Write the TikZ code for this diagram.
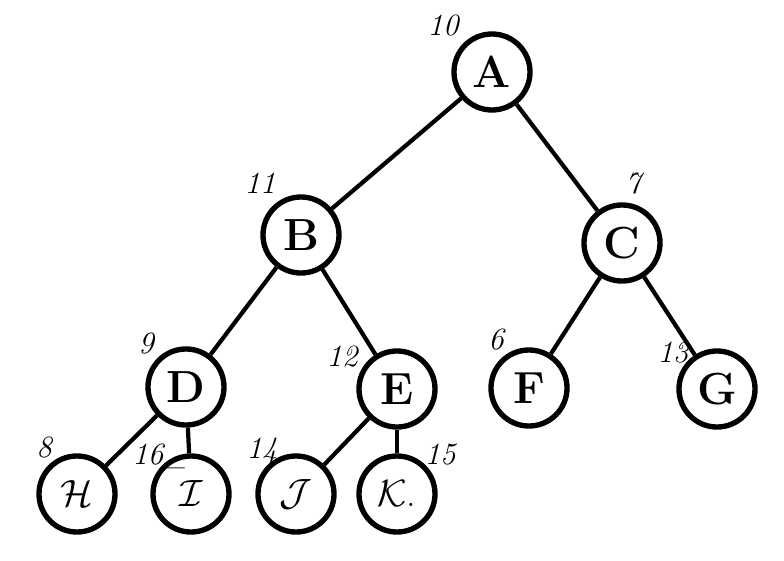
\documentclass[tikz,border=0pt]{standalone}
\usepackage{fix-cm}
\usepackage{fontspec}
\begin{document}
\begin{tikzpicture}[x=0.025cm, y=-0.025cm,
    vertex/.style={circle, draw, line width=3.8pt, minimum size=1.9cm, inner sep=0pt,
      font={\fontsize{32}{36}\selectfont\bfseries}},
    leaf/.style={vertex, font={\fontsize{27}{31}\selectfont}},
    tag/.style={font={\fontsize{22}{26}\selectfont\itshape}, inner sep=0pt},
    edge/.style={line width=3pt}]
      \useasboundingbox (0,0) rectangle (784,560);
      %
      \node[vertex] (A) at (492,72)  {A};   % root
      \node[vertex] (B) at (301,235) {B};
      \node[vertex] (C) at (622,243) {C};
      %
      \node[vertex] (D) at (186,387) {D};
      \node[vertex] (E) at (397,389) {E};
      \node[vertex] (F) at (529,388) {F};
      \node[vertex] (G) at (717,389) {G};
      %
      \node[leaf] (H) at (77,494)  {$\mathcal{H}$};
      \node[leaf] (I) at (191,494) {$\mathcal{I}$};
      \node[leaf] (J) at (296,494) {$\mathcal{J}$};
      \node[leaf] (K) at (397,494) {$\mathcal{K}$.};
      %
      \draw[edge] (A) -- (B);
      \draw[edge] (A) -- (C);
      \draw[edge] (B) -- (D);
      \draw[edge] (B) -- (E);
      \draw[edge] (C) -- (F);
      \draw[edge] (C) -- (G);
      \draw[edge] (D) -- (H);
      \draw[edge] (D) -- (I);
      \draw[edge] (E) -- (J);
      \draw[edge] (E) -- (K);
      %
      \node[tag] (tA) at (443,26)  {10};
      \node[tag] (tB) at (260,183) {11};
      \node[tag] (tC) at (633,184) {7};
      \node[tag] (tD) at (146,344) {9};
      \node[tag] (tE) at (342,357) {12};
      \node[tag] (tF) at (496,340) {6};
      \node[tag] (tG) at (673,353) {13};
      \node[tag] (tH) at (44,448)  {8};
      \node[tag, anchor=west] (tI) at (132,456) {16\_};
      \node[tag] (tJ) at (262,451) {14};
      \node[tag] (tK) at (440,455) {15};
      %
\end{tikzpicture}
\end{document}
